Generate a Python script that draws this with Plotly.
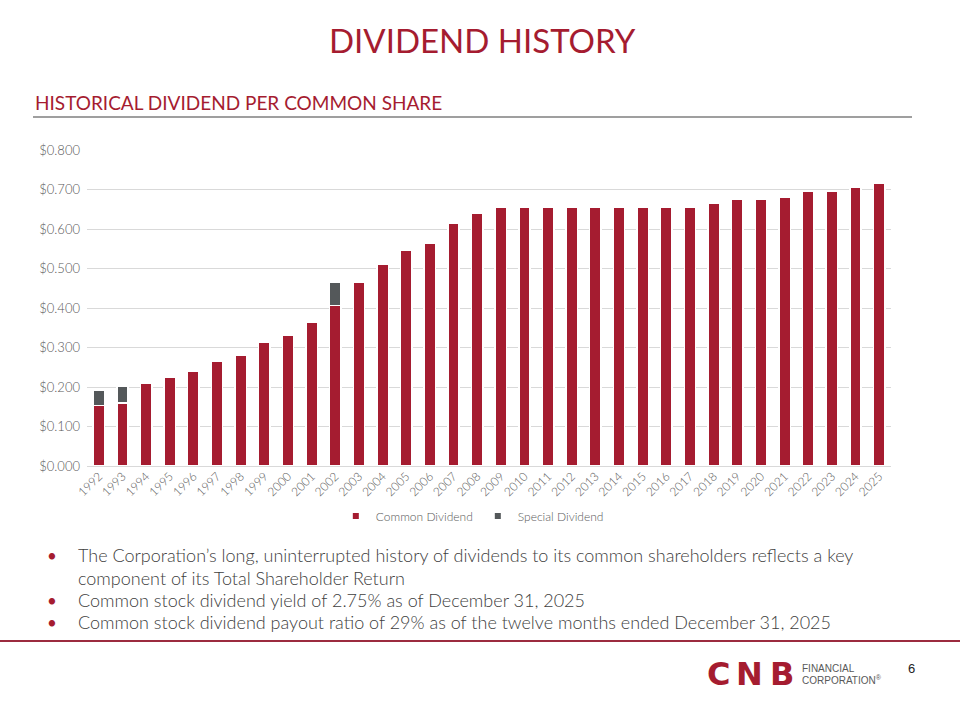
import plotly.graph_objects as go

# Dividend per common share
years = [str(y) for y in range(1992, 2026)]
common_dividend = [0.153, 0.160, 0.210, 0.225, 0.240, 0.265, 0.281, 0.313, 0.330, 0.365,
                   0.406, 0.466, 0.511, 0.545, 0.565, 0.615, 0.640, 0.655, 0.655, 0.655,
                   0.655, 0.655, 0.655, 0.655, 0.655, 0.655, 0.665, 0.675, 0.675, 0.680,
                   0.695, 0.695, 0.705, 0.715]
special_dividend = [0.040, 0.042, None, None, None, None, None, None, None, None,
                    0.060] + [None] * 23
bullets = [
    "The Corporation’s long, uninterrupted history of dividends to its common shareholders reflects a key",
    "component of its Total Shareholder Return",
    "Common stock dividend yield of 2.75% as of December 31, 2025",
    "Common stock dividend payout ratio of 29% as of the twelve months ended December 31, 2025",
]
bullet_marks = [True, False, True, True]

RED = "#A51C30"
GREY = "#54585A"
TXT = "#404040"
W, H = 960, 720

fig = go.Figure()
fig.add_trace(go.Bar(x=years, y=common_dividend, name="Common Dividend", marker_color=RED,
                     marker_line=dict(color="white", width=1.5), showlegend=False))
fig.add_trace(go.Bar(x=years, y=special_dividend, name="Special Dividend", marker_color=GREY,
                     marker_line=dict(color="white", width=1.5), showlegend=False))
# small square legend keys like the slide
for nm, col in [("Common Dividend", RED), ("Special Dividend", GREY)]:
    fig.add_trace(go.Scatter(x=[None], y=[None], mode="markers", name=nm,
                             marker=dict(symbol="square", size=6, color=col)))


def px(x, y):
    return x / W, 1 - y / H


def note(x, y, text, size, color, family="Lato", anchor="left", weight=None):
    xx, yy = px(x, y)
    f = dict(family=family, size=size, color=color)
    if weight:
        f["weight"] = weight
    return dict(x=xx, y=yy, xref="paper", yref="paper", text=text, showarrow=False,
                xanchor=anchor, yanchor="middle", font=f)


annos = [
    note(482, 40, "DIVIDEND HISTORY", 33, RED, anchor="center"),
    note(33, 103, "HISTORICAL DIVIDEND PER COMMON SHARE", 19, RED),
]
rows = [555, 578, 600, 622]
for txt, mark, yy in zip(bullets, bullet_marks, rows):
    if mark:
        annos.append(note(45, yy, "•", 17, RED))
    annos.append(note(76, yy, txt, 18, TXT, weight=300))

# logo and page number
for ch, cx in zip("CNB", [718, 749, 782]):
    annos.append(note(cx, 674, "<b>" + ch + "</b>", 32, RED, family="DejaVu Sans", anchor="center"))
annos.append(note(800, 668, "FINANCIAL", 10, "#595959", family="Liberation Sans"))
annos.append(note(800, 680, "CORPORATION<sup>®</sup>", 10, "#595959", family="Liberation Sans"))
annos.append(note(911, 668, "6", 13, "#222222", family="Liberation Sans", anchor="center"))

shapes = [
    dict(type="line", xref="paper", yref="paper", x0=33 / W, x1=912 / W, y0=1 - 117 / H,
         y1=1 - 117 / H, line=dict(color="#7F7F7F", width=1.5)),
    dict(type="line", xref="paper", yref="paper", x0=0, x1=1, y0=1 - 641 / H,
         y1=1 - 641 / H, line=dict(color="#9C2B3F", width=2)),
]

tick_font = dict(family="Lato", size=12, color="#595959", weight=300)

fig.update_layout(
    width=W, height=H,
    margin=dict(l=0, r=0, t=0, b=0),
    paper_bgcolor="white", plot_bgcolor="white",
    barmode="stack", bargap=0.52,
    font=dict(family="Lato", color="#595959"),
    annotations=annos, shapes=shapes,
    legend=dict(orientation="h", x=0.492, xanchor="center", y=1 - 516 / H, yanchor="middle",
                font=tick_font, traceorder="normal"),
)
fig.update_xaxes(domain=[87 / W, 891 / W], tickangle=-45, tickfont=tick_font,
                 showgrid=False, showline=False, ticks="", automargin=False)
fig.update_yaxes(domain=[1 - 466 / H, 1 - 150 / H], range=[0, 0.8], dtick=0.1, tickformat="$.3f",
                 gridcolor="#D9D9D9", gridwidth=1, zeroline=True, zerolinecolor="#D9D9D9",
                 zerolinewidth=1, tickfont=dict(tick_font, size=13), ticklabelstandoff=6,
                 automargin=False)

fig.write_html("out.html", config={"displayModeBar": False},
               post_script="document.body.style.margin='0';")
